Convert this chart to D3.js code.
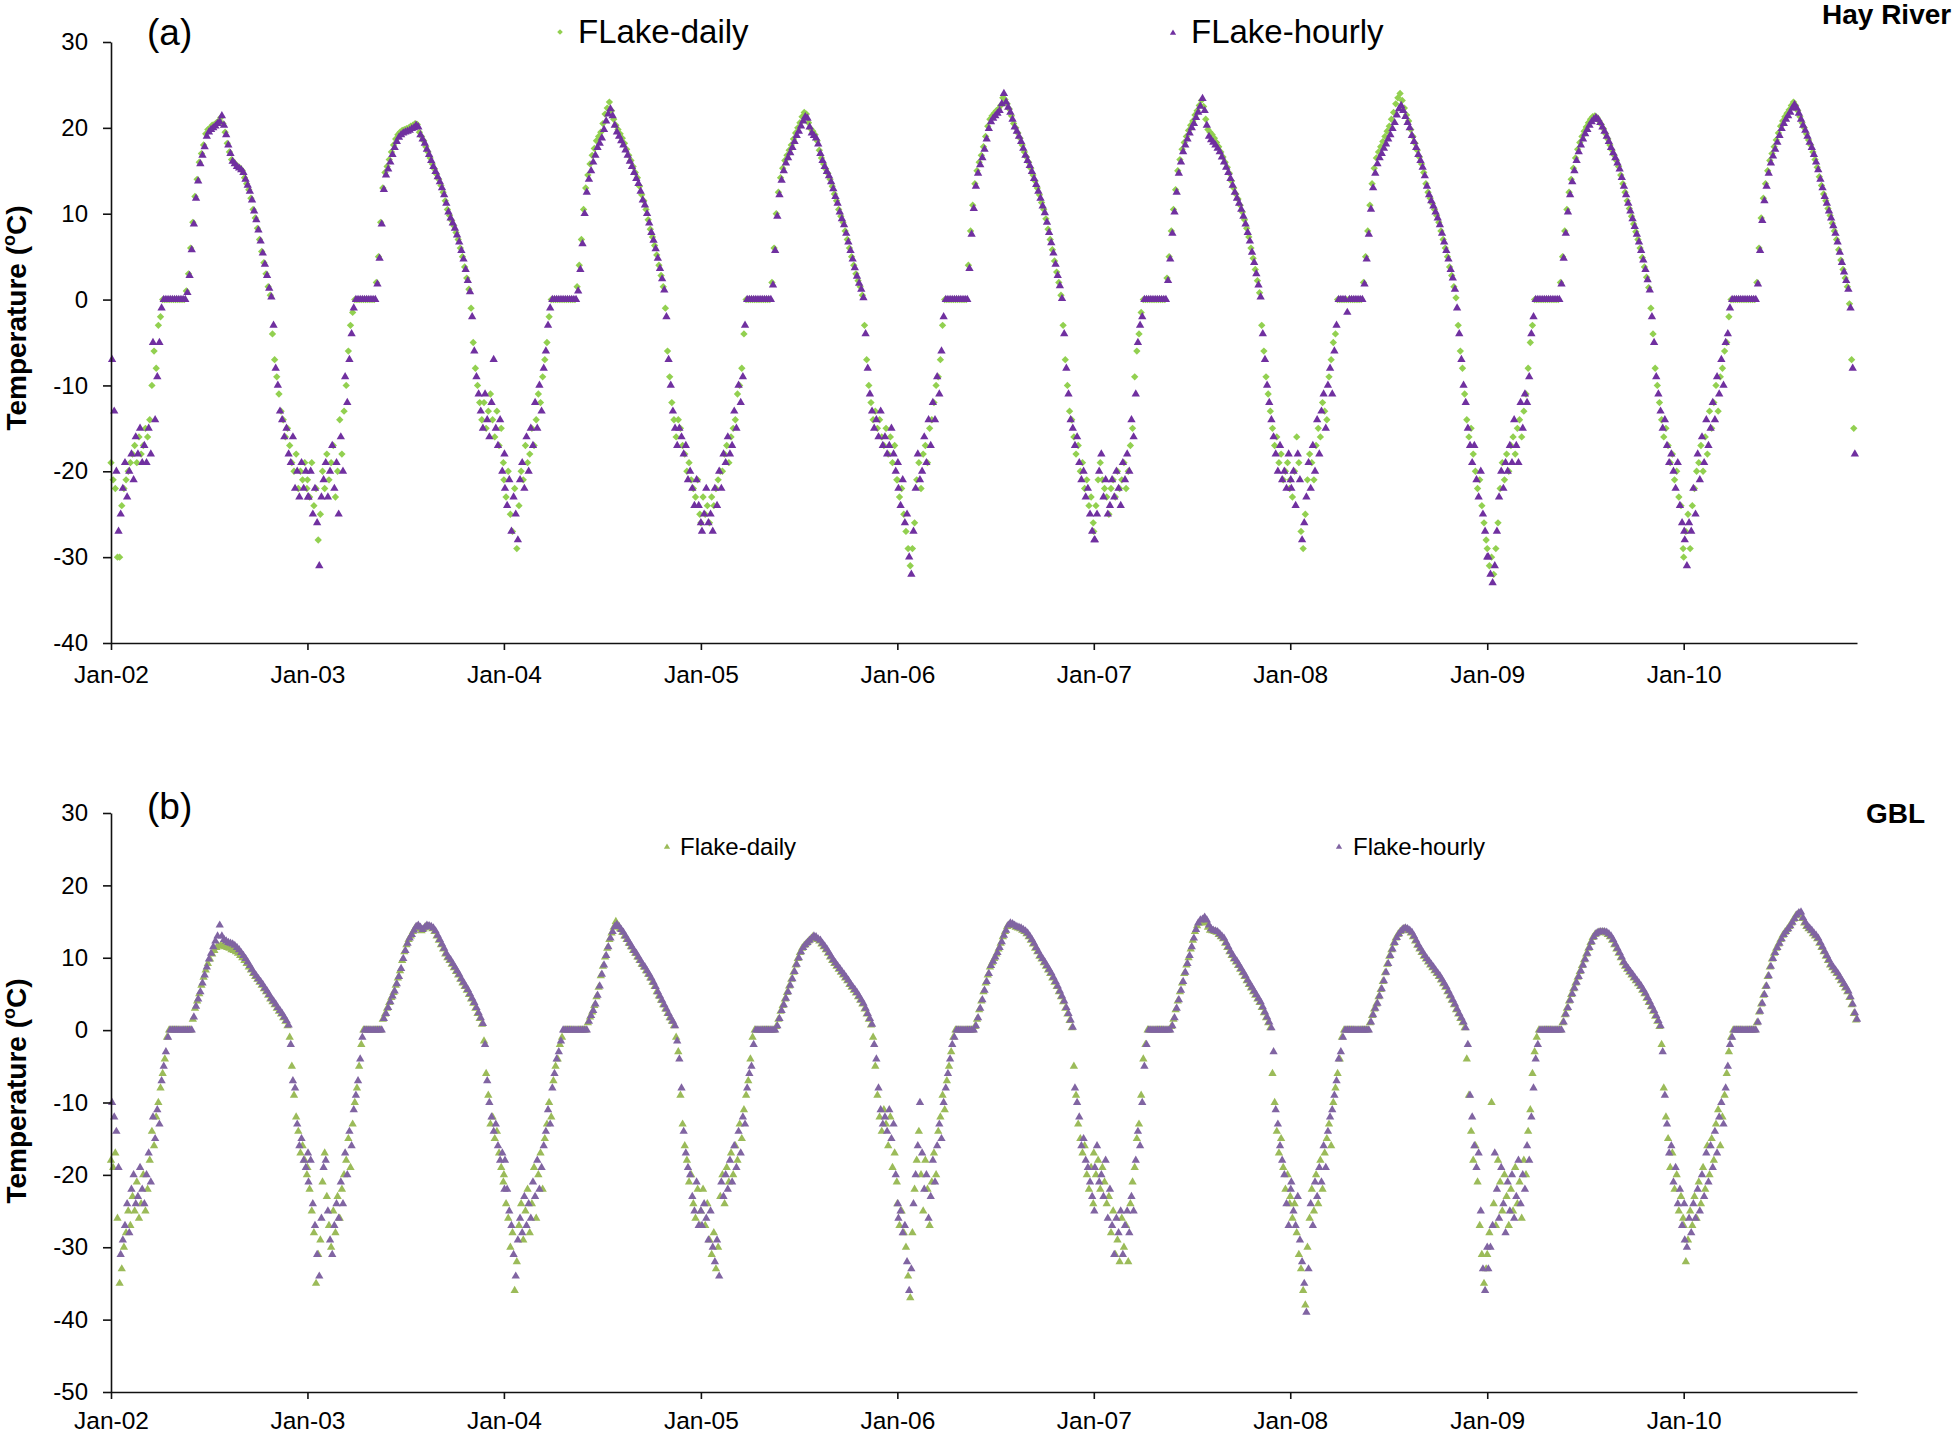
<!DOCTYPE html>
<html><head><meta charset="utf-8">
<script src="https://cdn.jsdelivr.net/npm/d3@7"></script>
<style>body{margin:0;background:#fff}svg{display:block}</style>
</head><body>
<svg id="chart" width="1956" height="1433"></svg>
<script>
// ---------- DATA ----------
// daily series: one value every 4 days from 1 Jan of each year (day 0, 4, 8, ...)
// hourly series: one value every 4 days from 3 Jan of each year (day 2, 6, 10, ...)
const years = [2002, 2003, 2004, 2005, 2006, 2007, 2008, 2009, 2010];
const stepDays = 4;
const dailyStartDay = 0;
const hourlyStartDay = 2;
const xTickLabels = ["Jan-02","Jan-03","Jan-04","Jan-05","Jan-06","Jan-07","Jan-08","Jan-09","Jan-10"];
const yTicksA = [30, 20, 10, 0, -10, -20, -30, -40];
const yTicksB = [30, 20, 10, 0, -10, -20, -30, -40, -50];
const legendA = ["FLake-daily", "FLake-hourly"];
const legendB = ["Flake-daily", "Flake-hourly"];

// (a) Hay River
const hayDaily = [
 [-19,-21,-22,-30,-30,-24,-22,-21,-20,-19, -18,-17,-19,-16,-18,-17,-15,-16,-14,-10, -6,-8,-3,-2,0,0,0,0,0,0, 0,0,0,0,0,1,3,6,9,12, 14,16,17,18,19.3,19.8,20,20.3,20.4,20.6, 20.8,21.2,20.5,19.5,18.2,17.2,16.3,16,15.7,15.5, 15.3,15,14.2,13.5,12.8,11.8,10.5,9.5,8.3,7, 5.6,4.3,3,1.5,0.5,-4,-7,-9,-11,-13, -14,-16,-15,-17,-19,-20,-18,-22,-20,-21, -19,-22],
 [-21,-23,-19,-24,-22,-28,-25,-20,-22,-18, -21,-19,-17,-23,-20,-14,-18,-13,-10,-6, -3,-1.5,0,0,0,0,0,0,0,0, 0,0,2,5,9,13,14.8,15.5,16.3,17.2, 18,18.7,19.2,19.5,19.7,19.8,19.9,20,20.2,20.3, 20.5,20.4,19.5,19,18.5,17.8,17.2,16.5,15.8,15.2, 14.6,14,13.3,12.5,11.5,10.5,9.8,9.2,8.6,7.8, 7,6,5,3.8,2.5,1.2,-1,-5,-8,-10, -12,-14,-12,-15,-13,-11,-14,-16,-13,-17, -15,-19],
 [-21,-23,-20,-25,-27,-22,-29,-24,-20,-21, -17,-19,-18,-15,-17,-14,-11,-12,-9,-7, -5,-2,0,0,0,0,0,0,0,0, 0,0,0,0,1.5,4,7,10.5,13,14.5, 15.8,16.8,17.6,18.5,19,19.5,20.5,21.6,22.3,23, 22,21,20.3,19.8,19.3,18.8,18.2,17.5,16.8,16.2, 15.5,14.8,14.2,13.2,12.2,11.5,10.5,9.3,8.2,7.3, 6.3,5.2,4,2.8,1.5,-1,-6,-9,-12,-14, -16,-14,-15,-17,-18,-20,-19,-21,-22,-23, -21,-25],
 [-26,-23,-25,-24,-26,-23,-24,-22,-21,-20, -20,-18,-17,-19,-16,-15,-14,-11,-10,-8, -4,0,0,0,0,0,0,0,0,0, 0,0,0,2,6,10,12.5,14.2,15.3,16.2, 16.8,17.4,18,18.7,19.4,20,20.6,21.3,21.8,21.6, 20.6,19.9,19.6,19.2,18.5,17.4,16.5,15.8,15.2,14.7, 14,13.2,12.3,11.5,10.5,9.7,9,8,7,6, 5,4,3,2.2,1.5,0.5,-3,-7,-10,-12, -14,-13,-15,-14,-16,-17,-15,-18,-16,-19, -17,-21],
 [-21,-23,-22,-25,-27,-29,-31,-29,-26,-21, -19,-22,-18,-17,-19,-15,-14,-12,-10,-9, -7,-3,0,0,0,0,0,0,0,0, 0,0,0,4,8,11,13.5,15,16,16.8, 17.8,19,20.2,21,21.4,21.7,22,22.2,22.6,23.5, 23.3,22.8,22.2,21.4,20.5,20,19.4,18.8,18,17.2, 16.6,16,15.3,14.5,13.8,13,12.2,11.3,10.5,9.4, 8.2,7,5.8,4.5,3.2,2,0.5,-3,-7,-10, -13,-14,-16,-18,-17,-20,-19,-22,-21,-24, -23,-26],
 [-27,-24,-21,-19,-21,-22,-23,-25,-22,-21, -23,-20,-22,-21,-19,-22,-20,-17,-15,-9, -6,-4,-1.5,0,0,0,0,0,0,0, 0,0,0,0,2.5,5,8,10.5,12.8,15, 16.3,17.5,18.3,19,19.7,20.3,20.8,21.5,22,22.6, 23.2,22.5,21,19.8,19.5,19.2,18.8,18.3,17.8,17.2, 16.6,16,15.4,14.7,13.8,13,12.3,11.7,11,10.2, 9.3,8.3,7.3,6,4.8,3.5,2.2,0.8,-3,-6, -9,-11,-13,-15,-17,-16,-19,-18,-21,-20, -19,-22],
 [-21,-23,-20,-16,-19,-27,-29,-25,-21,-18, -19,-21,-17,-15,-16,-12,-13,-14,-9,-7, -5,-4,0,0,0,0,0,0,0,0, 0,0,0,0,2,5,8,11,13.5,15.3, 16.5,17.2,17.8,18.4,19,19.6,20.2,21,21.8,22.8, 23.5,24,23.2,22.3,21.5,20.8,19.8,19,18.2,17.4, 16.6,15.8,14.8,13.5,12.5,11.8,11.2,10.5,9.8,9, 8,7,6,5,3.8,2.8,1.5,0.2,-3,-6, -8,-11,-14,-16,-15,-18,-20,-22,-21,-24, -26,-28],
 [-29,-31,-30,-32,-29,-26,-22,-19,-21,-18, -20,-17,-16,-18,-15,-14,-16,-13,-11,-8, -5,-3,0,0,0,0,0,0,0,0, 0,0,0,0,2,5,8,10.5,12.5,14, 15.3,16.5,17.5,18.3,19,19.6,20.1,20.6,21,21.3, 21.4,21.2,20.8,20.4,19.9,19.3,18.7,18,17.4,16.8, 16.2,15.5,14.5,13.5,12.5,11.5,10.6,9.7,8.8,7.9, 7,6,4.9,3.8,2.6,1.4,-1,-4,-8,-10, -12,-14,-16,-15,-17,-19,-18,-21,-20,-23, -24,-29],
 [-30,-27,-25,-29,-24,-22,-20,-19,-17,-20, -16,-18,-13,-15,-12,-10,-13,-9,-8,-6, -5,-2,0,0,0,0,0,0,0,0, 0,0,0,0,2,6,9.5,11.8,13.5,15, 16.2,17,17.8,18.6,19.4,20.2,20.8,21.3,21.7,22.1, 22.6,23,22.6,22,21.3,20.6,20,19.3,18.6,18, 17.2,16.3,15.4,14.3,13.3,12.3,11.5,10.6,9.8,8.9, 8,7,5.8,4.6,3.5,2.5,1.5,-0.5,-7,-15]
];
const hayHourly = [
 [-7,-13,-20,-27,-25,-22,-19,-23,-20,-18, -21,-16,-18,-15,-19,-17,-19,-15,-18,-5, -14,-9,-5,-1,0,0,0,0,0,0, 0,0,0,0,0,0.8,2.8,5.8,8.8,11.8, 13.8,15.8,16.8,17.8,19,19.5,19.8,20,20.2,20.5, 20.7,21.4,20.3,19.2,18,17,16.1,15.8,15.5,15.3, 15.1,14.8,14,13.3,12.6,11.6,10.3,9.3,8.1,6.8, 5.4,4.1,2.8,1.3,0.3,-3,-8,-10,-13,-14, -16,-15,-18,-19,-16,-22,-20,-23,-19,-22, -20,-23],
 [-23,-20,-25,-22,-26,-31,-23,-21,-19,-23, -20,-17,-22,-19,-25,-16,-20,-9,-12,-7, -4,-1,0,0,0,0,0,0,0,0, 0,0,1.8,4.8,8.8,12.8,14.5,15.2,16,16.9, 17.7,18.4,18.9,19.2,19.4,19.5,19.6,19.7,19.9,20, 20.3,20.1,19.2,18.7,18.2,17.5,16.9,16.2,15.5,14.9, 14.3,13.7,13,12.2,11.2,10.2,9.5,8.9,8.3,7.5, 6.7,5.7,4.7,3.5,2.2,0.9,-2,-6,-9,-11, -13,-15,-11,-14,-16,-12,-7,-15,-17,-14, -20,-18],
 [-22,-24,-21,-27,-23,-25,-28,-21,-19,-22, -16,-20,-15,-17,-12,-15,-10,-13,-8,-6, -3,-1,0,0,0,0,0,0,0,0, 0,0,0,0,1,3.5,6.5,10,12.5,14, 15,16,16.8,17.7,18.2,18.8,19.8,20.8,21.6,22.2, 21.4,20.3,19.5,19,18.5,18,17.4,16.8,16.1,15.5, 14.8,14.1,13.5,12.6,11.6,11,10,8.9,7.8,6.9, 5.9,4.8,3.6,2.4,1.1,-2,-7,-10,-13,-15, -17,-15,-16,-18,-17,-21,-20,-22,-24,-21, -24,-26],
 [-27,-25,-22,-26,-25,-27,-22,-24,-20,-22, -18,-19,-16,-18,-17,-13,-15,-10,-12,-9, -3,0,0,0,0,0,0,0,0,0, 0,0,0,1.7,5.7,9.7,12.2,13.9,15,15.9, 16.5,17.1,17.7,18.4,19.1,19.6,20.2,20.8,21.3,21.1, 20.1,19.4,19.1,18.8,18.1,17,16.2,15.5,14.9,14.4, 13.7,12.9,12,11.2,10.2,9.4,8.7,7.7,6.7,5.7, 4.7,3.7,2.7,1.9,1.2,0.2,-4,-8,-11,-13, -15,-14,-16,-13,-17,-16,-18,-17,-15,-18, -20,-19],
 [-22,-24,-21,-26,-25,-30,-32,-27,-22,-18, -21,-20,-16,-19,-14,-17,-12,-14,-9,-11, -6,-2,0,0,0,0,0,0,0,0, 0,0,0,3.6,7.6,10.6,13.2,14.7,15.7,16.5, 17.5,18.7,19.9,20.7,21.1,21.4,21.7,22,22.8,24, 23,22.4,21.8,21,20.1,19.6,19,18.4,17.6,16.8, 16.2,15.6,14.9,14.1,13.4,12.6,11.8,10.9,10.1,9, 7.8,6.6,5.4,4.1,2.8,1.6,0.1,-4,-8,-11, -14,-15,-17,-16,-19,-21,-20,-23,-22,-25, -27,-28],
 [-28,-25,-20,-18,-23,-21,-25,-24,-21,-23, -20,-22,-24,-19,-21,-18,-20,-14,-16,-11, -5,-3,-2,0,0,0,0,0,0,0, 0,0,0,0,2.2,4.7,7.7,10.2,12.5,14.7, 16,17.2,18,18.7,19.4,20,20.5,21.2,21.8,22.5, 23.4,22,20.3,19,18.6,18.3,18,17.6,17.2,16.6, 16,15.4,14.8,14.1,13.3,12.5,11.8,11.2,10.5,9.7, 8.8,7.8,6.8,5.5,4.3,3,1.7,0.3,-4,-7, -10,-12,-14,-16,-18,-20,-17,-21,-20,-22, -18,-21],
 [-22,-20,-24,-18,-21,-28,-26,-23,-19,-22, -17,-20,-14,-18,-13,-11,-15,-10,-8,-11, -6,-3,0,0,0,0,-1.5,0,0,0, 0,0,0,0,1.8,4.7,7.6,10.5,13,14.7, 15.8,16.5,17,17.6,18.1,18.7,19.2,19.9,20.6,21.5, 22.2,22.6,22,21.3,20.6,20,19.1,18.4,17.7,16.9, 16.2,15.4,14.4,13.2,12.2,11.5,10.9,10.2,9.5,8.7, 7.7,6.7,5.7,4.7,3.5,2.5,1.2,-1,-4,-7, -10,-12,-15,-17,-19,-17,-21,-23,-20,-25, -27,-30],
 [-30,-32,-33,-31,-27,-23,-20,-22,-19,-20, -17,-19,-14,-17,-19,-12,-15,-11,-12,-9, -4,-2,0,0,0,0,0,0,0,0, 0,0,0,0,1.8,4.8,7.7,10.2,12.2,13.7, 15,16.2,17.2,18,18.7,19.3,19.8,20.3,20.7,21, 21.2,21,20.6,20.1,19.6,19,18.4,17.7,17.1,16.5, 15.9,15.2,14.2,13.2,12.2,11.2,10.3,9.4,8.5,7.6, 6.7,5.7,4.6,3.5,2.3,1.1,-2,-5,-9,-11, -13,-15,-14,-17,-19,-18,-20,-22,-19,-24, -26,-27],
 [-28,-31,-26,-27,-22,-25,-18,-21,-16,-19, -14,-17,-15,-12,-14,-9,-11,-7,-10,-5, -4,-1,0,0,0,0,0,0,0,0, 0,0,0,0,1.8,5.7,9.2,11.5,13.2,14.7, 15.9,16.7,17.5,18.3,19.1,19.9,20.5,21,21.4,21.8, 22.3,22.7,22.3,21.7,21,20.3,19.7,19,18.3,17.7, 16.9,16,15.1,14,13,12,11.2,10.3,9.5,8.6, 7.7,6.7,5.5,4.3,3.2,2.2,1.2,-1,-8,-18]
];

// (b) GBL
const gblDaily = [
 [-18,-19,-17,-26,-35,-33,-30,-28,-25,-27, -23,-25,-21,-26,-24,-20,-25,-22,-18,-14, -16,-12,-10,-8,-6,-4,-1,0,0,0, 0,0,0,0,0,0,0,0,1.5,3, 4,5,6.2,7.3,8.3,9.2,9.8,10.5,11,11.4, 11.6,11.7,11.6,11.5,11.4,11.3,11.1,11,10.8,10.6, 10.3,10,9.6,9.2,8.7,8.3,7.8,7.4,7,6.6, 6.2,5.7,5.3,4.8,4.3,3.9,3.5,3,2.6,2.2, 1.7,1.2,0.6,-1,-5,-9,-12,-14,-17,-16, -18,-20],
 [-19,-22,-25,-28,-35,-31,-29,-21,-17,-23, -27,-30,-25,-28,-23,-26,-22,-20,-18,-15, -19,-13,-10,-8,-5,-2,0,0,0,0, 0,0,0,0,0,1.5,2.2,3,3.8,4.5, 5.2,6.2,7.2,8.2,9.6,10.8,11.8,12.5,13,13.6, 14.1,14.3,14,13.7,14,14.3,14.3,14.2,14,13.6, 13,12.4,11.8,11.2,10.5,10,9.6,9.1,8.6,8.1, 7.6,7,6.5,6,5.5,4.9,4.3,3.7,3,2.3, 1.6,0.8,-1.5,-6,-9,-13,-12,-15,-14,-17, -19,-21],
 [-20,-24,-26,-30,-28,-36,-32,-27,-24,-29, -25,-22,-28,-24,-19,-26,-20,-17,-22,-15, -13,-10,-12,-7,-5,-4,-2,-1,0,0, 0,0,0,0,0,0,0,0,0,1, 1.8,2.5,3.4,4.6,5.9,7.5,8.8,10.1,11.3,12.5, 13.4,14.2,15,14.4,14,13.5,13,12.5,12,11.5, 11,10.6,10.1,9.6,9.1,8.7,8.2,7.7,7.2,6.6, 6,5.3,4.7,4.1,3.5,2.9,2.3,1.7,1.2,0.6, -1,-3,-9,-13,-16,-18,-21,-20,-24,-26, -22,-27],
 [-25,-22,-27,-24,-29,-31,-28,-33,-30,-23, -20,-24,-19,-21,-17,-20,-16,-18,-13,-15, -11,-9,-7,-4,-1,0,0,0,0,0, 0,0,0,0,0,0.5,1.5,2.6,3.4,4.3, 5.2,6.1,7,8,9,9.9,10.7,11.3,11.7,12, 12.3,12.6,12.9,12.8,12.5,12.3,11.9,11.5,11.1,10.6, 10.1,9.6,9.2,8.8,8.4,8,7.6,7.2,6.8,6.3, 5.9,5.5,5.1,4.6,4.1,3.6,2.9,2.2,1.5,0.7, -1,-5,-9,-12,-14,-11,-13,-16,-12,-19, -17,-21],
 [-24,-27,-25,-28,-30,-34,-37,-28,-22,-18, -14,-20,-25,-18,-22,-27,-21,-17,-20,-14, -12,-9,-11,-7,-5,-3,-1,0,0,0, 0,0,0,0,0,0,0.5,1.5,2.8,4, 5.3,6.5,7.6,8.7,9.3,9.9,10.5,11.2,12,12.9, 13.6,14.3,14.6,14.5,14.4,14.2,14.1,14,13.8,13.6, 13.3,12.9,12.4,11.9,11.3,10.8,10.2,9.8,9.3,8.8, 8.3,7.8,7.2,6.6,6,5.3,4.6,3.9,3,2.2, 1.3,0.3,-5,-9,-13,-15,-17,-16,-20,-22, -19,-24],
 [-17,-20,-18,-22,-19,-21,-24,-23,-28,-25, -31,-29,-32,-26,-30,-27,-32,-24,-21,-19, -15,-13,-9,-4,-2,0,0,0,0,0, 0,0,0,0,0,0,0.5,1.5,2.8,4, 5.3,6.5,7.8,9,10,11.2,12.4,13.6,14.4,14.8, 15,15.3,14.8,14.2,13.8,13.7,13.6,13.5,13.2,12.9, 12.6,12,11.4,10.8,10.3,9.8,9.4,8.9,8.4,7.9, 7.4,6.8,6.3,5.8,5.3,4.8,4.3,3.8,3.1,2.4, 1.7,1,0.3,-6,-10,-14,-17,-15,-19,-22, -20,-24],
 [-23,-26,-24,-28,-31,-33,-36,-38,-30,-26, -22,-25,-20,-24,-18,-22,-17,-15,-13,-16, -10,-8,-6,-4,-1,0,0,0,0,0, 0,0,0,0,0,0,0,1,2,2.9, 3.6,4.6,5.6,6.7,7.9,9.1,10.2,11.1,12,12.7, 13.2,13.6,13.9,14,13.9,13.7,13.4,12.9,12.3,11.7, 11.2,10.7,10.2,9.8,9.4,9,8.6,8.2,7.8,7.4, 6.9,6.4,5.9,5.3,4.7,4.1,3.5,2.8,2.2,1.6, 1,0.3,-4,-9,-14,-18,-16,-21,-27,-31, -35,-33],
 [-31,-28,-10,-24,-27,-18,-21,-25,-20,-23, -27,-22,-25,-19,-24,-21,-26,-18,-20,-14, -11,-6,-3,-1,0,0,0,0,0,0, 0,0,0,0,0,1,2.1,3,4,4.9, 5.7,6.5,7.3,8.1,8.9,9.7,10.5,11.3,12.1,12.8, 13.2,13.4,13.5,13.5,13.5,13.4,13.2,12.9,12.4,11.8, 11.2,10.6,10,9.3,8.8,8.4,8,7.6,7.2,6.8, 6.4,6,5.5,5,4.4,3.8,3.2,2.6,1.9,1.2, 0.5,-2,-8,-12,-15,-19,-17,-22,-20,-25, -23,-26],
 [-27,-32,-29,-25,-27,-23,-26,-21,-24,-19, -22,-16,-20,-15,-18,-13,-11,-16,-12,-9, -6,-3,-1,0,0,0,0,0,0,0, 0,0,0,0,1,2.5,3.6,4.8,6,7.4, 8.7,9.8,10.6,11.3,11.9,12.5,13.1,13.5,13.9,14.3, 14.8,15.3,15.8,16,16.1,15.4,14.8,14.3,14,13.7, 13.3,13,12.6,12,11.4,10.8,10.2,9.6,9,8.6, 8.2,7.8,7.3,6.8,6.3,5.8,5.3,4.5,3.5,2.3, 1.4]
];
const gblHourly = [
 [-10,-12,-14,-19,-31,-29,-27,-24,-28,-22, -20,-24,-23,-19,-22,-24,-20,-17,-21,-12, -15,-11,-13,-7,-5,-3,-1,0,0,0, 0,0,0,0,0,0,0,0,1.8,3.3, 4.3,5.3,6.5,7.6,8.7,9.8,10.6,11.5,12.3,13, 14.5,13,12.5,12.3,12.1,12,11.9,11.7,11.4,11.1, 10.7,10.3,9.9,9.4,8.9,8.4,7.9,7.5,7.1,6.7, 6.3,5.8,5.4,4.9,4.4,4,3.6,3.1,2.7,2.3, 1.8,1.3,0.7,-2,-7,-8,-13,-16,-15,-18, -19,-17],
 [-21,-18,-24,-27,-31,-34,-26,-19,-18,-25, -29,-31,-27,-24,-26,-21,-24,-17,-20,-14, -16,-11,-9,-7,-4,-1,0,0,0,0, 0,0,0,0,0,1.6,2.3,3.1,3.9,4.7, 5.4,6.4,7.4,8.5,9.9,11,12,12.7,13.2,13.8, 14.3,14.5,14.2,13.9,14.2,14.5,14.4,14.3,14.1,13.7, 13.1,12.5,11.9,11.3,10.6,10.1,9.7,9.2,8.7,8.2, 7.7,7.1,6.6,6.1,5.6,5,4.4,3.8,3.1,2.4, 1.7,0.9,-2,-7,-10,-12,-14,-13,-16,-18, -17,-22],
 [-18,-22,-25,-27,-31,-34,-29,-26,-28,-23, -27,-24,-26,-21,-23,-18,-22,-19,-16,-14, -11,-13,-8,-6,-4,-3,-1.5,0,0,0, 0,0,0,0,0,0,0,0,0,1.2, 2,2.7,3.6,4.8,6.1,7.7,9,10.3,11.5,12.7, 13.6,14.3,14.6,14.3,13.9,13.5,13,12.5,12,11.5, 11,10.6,10.1,9.6,9.1,8.7,8.2,7.7,7.2,6.6, 6,5.3,4.7,4.1,3.5,2.9,2.3,1.7,1.2,0.6, -1.5,-4,-8,-14,-17,-19,-20,-23,-25,-21, -27,-25],
 [-27,-24,-26,-29,-25,-30,-32,-29,-34,-21, -23,-20,-22,-18,-21,-16,-19,-14,-17,-12, -13,-8,-6,-5,-2,0,0,0,0,0, 0,0,0,0,0,0.6,1.6,2.7,3.5,4.4, 5.3,6.2,7.1,8.1,9.1,10,10.8,11.4,11.8,12.1, 12.4,12.7,13,12.9,12.6,12.4,12,11.6,11.2,10.7, 10.2,9.7,9.3,8.9,8.5,8.1,7.7,7.3,6.9,6.4, 6,5.6,5.2,4.7,4.2,3.7,3,2.3,1.6,0.8, -2,-4,-8,-11,-13,-12,-14,-11,-15,-13, -20,-24],
 [-26,-25,-28,-27,-32,-36,-33,-24,-20,-16, -10,-17,-22,-20,-26,-23,-18,-21,-16,-13, -15,-10,-8,-6,-4,-2,-1,0,0,0, 0,0,0,0,0,0,0.6,1.7,3,4.2, 5.5,6.7,7.8,8.9,9.5,10.1,10.7,11.4,12.2,13.1, 13.8,14.5,14.8,14.7,14.5,14.3,14.2,14.1,13.9,13.7, 13.4,13,12.5,12,11.4,10.9,10.3,9.9,9.4,8.9, 8.4,7.9,7.3,6.7,6.1,5.4,4.7,4,3.1,2.3, 1.4,0.4,-8,-10,-12,-16,-15,-18,-19,-21, -23,-25],
 [-19,-16,-21,-20,-23,-18,-26,-22,-27,-31, -26,-28,-25,-31,-27,-25,-28,-23,-25,-18, -14,-16,-10,-5,-2,0,0,0,0,0, 0,0,0,0,0,0,0.6,1.7,3,4.2, 5.5,6.7,8,9.2,10.3,11.5,12.7,13.9,14.8,15.2, 15.3,15.6,15.2,14.5,14,13.8,13.7,13.6,13.3,13, 12.7,12.1,11.5,10.9,10.4,9.9,9.5,9,8.5,8, 7.5,6.9,6.4,5.9,5.4,4.9,4.4,3.9,3.2,2.5, 1.8,1.1,0.3,-3,-11,-13,-16,-18,-20,-24, -27,-22],
 [-21,-25,-27,-23,-29,-32,-35,-39,-33,-24, -27,-21,-23,-19,-21,-16,-19,-14,-12,-11, -9,-7,-4,-3,-1,0,0,0,0,0, 0,0,0,0,0,0,0,1.1,2.1,3, 3.7,4.7,5.7,6.8,8,9.2,10.3,11.2,12.1,12.8, 13.3,13.7,14,14.1,14,13.8,13.5,13,12.4,11.8, 11.3,10.8,10.3,9.9,9.5,9.1,8.7,8.3,7.9,7.5, 7,6.5,6,5.4,4.8,4.2,3.6,2.9,2.3,1.7, 1.1,0.3,-2,-9,-12,-16,-19,-17,-25,-33, -36,-30],
 [-33,-30,-27,-17,-22,-26,-19,-24,-28,-21, -25,-20,-26,-23,-18,-24,-20,-22,-16,-18, -12,-8,-4,-2,0,0,0,0,0,0, 0,0,0,0,0,1.1,2.2,3.1,4.1,5, 5.8,6.6,7.4,8.2,9,9.8,10.6,11.4,12.2,12.9, 13.3,13.5,13.6,13.6,13.6,13.5,13.3,13,12.5,11.9, 11.3,10.7,10.1,9.4,8.9,8.5,8.1,7.7,7.3,6.9, 6.5,6.1,5.6,5.1,4.5,3.9,3.3,2.7,2,1.3, 0.6,-3,-9,-13,-17,-16,-21,-19,-24,-22, -27,-24],
 [-29,-30,-26,-28,-24,-26,-22,-25,-20,-23, -17,-21,-16,-19,-14,-17,-12,-10,-13,-8, -5,-2,-1,0,0,0,0,0,0,0, 0,0,0,0,1.1,2.6,3.7,4.9,6.1,7.5, 8.8,9.9,10.7,11.4,12,12.6,13.2,13.6,14,14.4, 14.9,15.4,15.9,16.2,16.3,15.5,14.9,14.4,14.1,13.8, 13.4,13.1,12.7,12.1,11.5,10.9,10.3,9.7,9.1,8.7, 8.3,7.9,7.4,6.9,6.4,5.9,5.4,4.6,3.6,2.4, 1.5]
];

// ---------- DRAWING ----------
const svg = d3.select("#chart");
const FONT = "'Liberation Sans', Arial, Helvetica, sans-serif";

function toPoints(series, startDay) {
  const out = [];
  series.forEach((vals, yi) => vals.forEach((v, i) =>
    out.push({date: new Date(years[yi], 0, 1 + startDay + i * stepDays), value: v})));
  return out;
}

const x = d3.scaleTime()
  .domain([new Date(2002, 0, 1), new Date(2010, 10, 19)])
  .range([111, 1857]);

const triPath = d3.symbol().type(d3.symbolTriangle).size(30)();
const diaPath = d3.symbol().type(d3.symbolSquare).size(27)();
const triLeg = d3.symbol().type(d3.symbolTriangle).size(17)();
const diaLeg = d3.symbol().type(d3.symbolSquare).size(16)();

function drawPanel(cfg) {
  const y = d3.scaleLinear().domain([cfg.yMin, cfg.yMax]).range([cfg.bottom, cfg.top]);
  const g = svg.append("g");

  // series: daily first, hourly on top
  const dPts = toPoints(cfg.daily, dailyStartDay), hPts = toPoints(cfg.hourly, hourlyStartDay);
  g.append("g").selectAll("path").data(dPts).join("path")
    .attr("d", cfg.dailyDiamond ? diaPath : triPath)
    .attr("transform", d => `translate(${x(d.date)},${y(d.value)})` + (cfg.dailyDiamond ? " rotate(45)" : ""))
    .attr("fill", cfg.dailyColor);
  g.append("g").selectAll("path").data(hPts).join("path")
    .attr("d", triPath)
    .attr("transform", d => `translate(${x(d.date)},${y(d.value)})`)
    .attr("fill", cfg.hourlyColor);

  // axes
  const xAxis = d3.axisBottom(x)
    .tickValues(years.map(yr => new Date(yr, 0, 1)))
    .tickFormat((d, i) => xTickLabels[i])
    .tickSize(7).tickSizeOuter(0).tickPadding(cfg.xPad);
  const gx = g.append("g").attr("transform", `translate(0,${cfg.bottom})`).call(xAxis);
  const yAxis = d3.axisLeft(y).tickValues(cfg.yTicks).tickFormat(d => String(d))
    .tickSize(8).tickSizeOuter(0).tickPadding(15);
  const gy = g.append("g").attr("transform", `translate(111,0)`).call(yAxis);
  [gx, gy].forEach(a => {
    a.selectAll("path,line").attr("stroke", "#111").attr("stroke-width", 1.6);
    a.selectAll("text").attr("font-family", FONT).attr("fill", "#000");
  });
  gx.selectAll("text").attr("font-size", 24.5);
  gy.selectAll("text").attr("font-size", 24);

  // y title
  const t = g.append("text")
    .attr("transform", `translate(26,${cfg.titleY}) rotate(-90)`)
    .attr("text-anchor", "middle")
    .attr("font-family", FONT).attr("font-weight", "bold").attr("font-size", 28);
  t.append("tspan").text("Temperature (");
  t.append("tspan").attr("font-size", 18).attr("dy", -11).text("o");
  t.append("tspan").attr("dy", 11).text("C)");

  // panel label
  g.append("text").attr("x", 147).attr("y", cfg.labelY)
    .attr("font-family", FONT).attr("font-size", 37).text(cfg.label);
  // site name
  g.append("text").attr("x", cfg.siteX).attr("y", cfg.siteY)
    .attr("font-family", FONT).attr("font-weight", "bold").attr("font-size", 28).text(cfg.site);

  // legend
  const lg = g.append("g");
  cfg.legend.forEach((name, i) => {
    const it = cfg.legendItems[i];
    lg.append("path")
      .attr("d", it.diamond ? diaLeg : triLeg)
      .attr("transform", `translate(${it.mx},${it.my})` + (it.diamond ? " rotate(45)" : ""))
      .attr("fill", it.color);
    lg.append("text").attr("x", it.tx).attr("y", it.ty)
      .attr("font-family", FONT).attr("font-size", cfg.legendSize).text(name);
  });
}

drawPanel({
  daily: hayDaily, hourly: hayHourly,
  dailyColor: "#92d050", hourlyColor: "#7030a0", dailyDiamond: true,
  yMin: -40, yMax: 30, top: 42, bottom: 643, yTicks: yTicksA, xPad: 16,
  titleY: 318, label: "(a)", labelY: 45,
  site: "Hay River", siteX: 1822, siteY: 24,
  legend: legendA, legendSize: 33,
  legendItems: [
    {diamond: true, color: "#92d050", mx: 560, my: 32, tx: 578, ty: 43},
    {diamond: false, color: "#7030a0", mx: 1173, my: 33, tx: 1191, ty: 43}
  ]
});

drawPanel({
  daily: gblDaily, hourly: gblHourly,
  dailyColor: "#9bbb59", hourlyColor: "#8064a2", dailyDiamond: false,
  yMin: -50, yMax: 30, top: 813, bottom: 1392, yTicks: yTicksB, xPad: 13,
  titleY: 1091, label: "(b)", labelY: 819,
  site: "GBL", siteX: 1866, siteY: 823,
  legend: legendB, legendSize: 24,
  legendItems: [
    {diamond: false, color: "#9bbb59", mx: 667, my: 847, tx: 680, ty: 855},
    {diamond: false, color: "#8064a2", mx: 1339, my: 847, tx: 1353, ty: 855}
  ]
});
</script>
</body></html>
